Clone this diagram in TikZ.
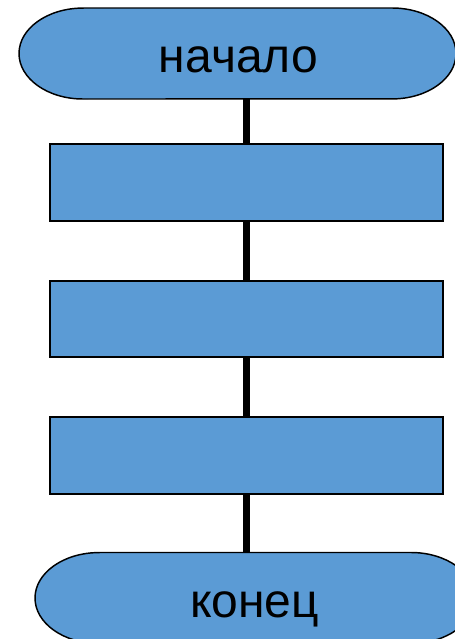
\documentclass[tikz,border=0pt]{standalone}
\usepackage{fontspec}
\setmainfont{Liberation Sans}
\usetikzlibrary{positioning}

\begin{document}
\begin{tikzpicture}[
    x=0.75pt, y=-0.75pt,
    term_box/.style = {rectangle, minimum width=437*0.75pt, minimum height=91*0.75pt, inner sep=0pt, text height=28.6pt, text depth=0pt, font=\fontsize{36}{40}\selectfont},
    term_shape/.style = {draw=black, line width=1.1pt, fill=blockblue},
    op_box/.style = {draw=black, line width=1.5pt, fill=blockblue, rectangle, minimum width=393.5*0.75pt, minimum height=76.5*0.75pt, inner sep=0pt},
    link/.style = {line width=5pt, black}
]
\definecolor{blockblue}{HTML}{5B9BD5}
\useasboundingbox (0,0) rectangle (454,639);

% --- Начало и конец (овальные концы) ---
\filldraw[term_shape] (83,8) -- (392,8) arc[start angle=90, end angle=-90, x radius=48pt, y radius=34.1pt]
    -- (83,99) arc[start angle=270, end angle=90, x radius=48pt, y radius=34.1pt] -- cycle;
\filldraw[term_shape] (99,552.5) -- (411,552.5) arc[start angle=90, end angle=-90, x radius=48pt, y radius=34.1pt]
    -- (99,643.5) arc[start angle=270, end angle=90, x radius=48pt, y radius=34.1pt] -- cycle;
\node[term_box] (start) at (238.5, 53.5) {начало};
\node[term_box] (finish) at (254.5, 598) {конец};

% --- Блоки действий ---
\node[op_box] (act1) at (246.25, 182.25) {};
\node[op_box] (act2) at (246.25, 318.75) {};
\node[op_box] (act3) at (246.25, 455.25) {};

% --- Соединительные линии ---
\draw[link] (act1.north) -- (act1.north |- start.south);
\draw[link] (act1.south) -- (act2.north);
\draw[link] (act2.south) -- (act3.north);
\draw[link] (act3.south) -- (act3.south |- finish.north);

\end{tikzpicture}
\end{document}
